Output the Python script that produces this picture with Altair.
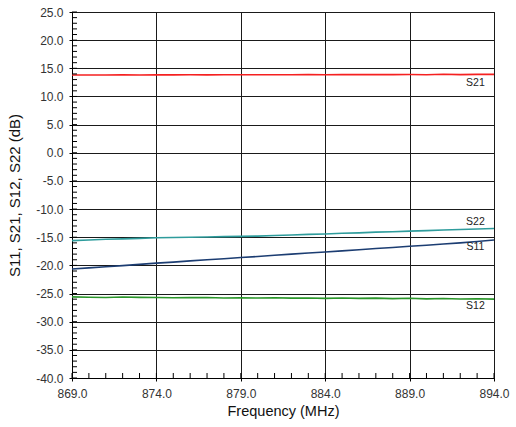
import altair as alt
import pandas as pd

freq = list(range(869, 895))
s21 = [13.80, 13.82, 13.80, 13.83, 13.82, 13.84, 13.83, 13.85, 13.84, 13.85, 13.86, 13.85, 13.86,
       13.85, 13.87, 13.86, 13.87, 13.88, 13.87, 13.88, 13.90, 13.86, 13.95, 13.88, 13.92, 13.93]
s22 = [-15.6, -15.5, -15.35, -15.3, -15.2, -15.1, -15.05, -15.0, -14.95, -14.9, -14.85, -14.8, -14.7,
       -14.6, -14.5, -14.42, -14.3, -14.22, -14.1, -14.02, -13.92, -13.82, -13.72, -13.62, -13.55, -13.45]
s11 = [-20.65, -20.45, -20.25, -20.05, -19.82, -19.6, -19.42, -19.2, -19.0, -18.82, -18.6, -18.42, -18.2,
       -18.0, -17.8, -17.62, -17.42, -17.22, -17.0, -16.82, -16.6, -16.42, -16.2, -16.0, -15.75, -15.5]
s12 = [-25.6, -25.65, -25.7, -25.62, -25.68, -25.7, -25.75, -25.72, -25.7, -25.78, -25.74, -25.8, -25.76,
       -25.82, -25.78, -25.85, -25.8, -25.86, -25.82, -25.9, -25.85, -25.95, -25.88, -25.96, -25.92, -26.0]

series_names = ["S21", "S22", "S11", "S12"]
series_colors = ["#f52020", "#2e9c9c", "#1c3d72", "#2a962a"]
label_x = [892.9, 892.9, 892.9, 892.9]
label_y = [12.45, -12.25, -16.7, -27.3]

x_major = [869.0, 874.0, 879.0, 884.0, 889.0, 894.0]
y_major = [-40.0, -35.0, -30.0, -25.0, -20.0, -15.0, -10.0, -5.0, 0.0, 5.0, 10.0, 15.0, 20.0, 25.0]
x_minor = [float(v) for v in range(869, 895)]
y_minor = [float(v) for v in range(-40, 26)]

rows = []
for name, vals in zip(series_names, [s21, s22, s11, s12]):
    for f, v in zip(freq, vals):
        rows.append({"f": f, "v": v, "s": name})
df = pd.DataFrame(rows)
labels = pd.DataFrame({"s": series_names, "x": label_x, "y": label_y})

FONT = "Liberation Sans"
xs = alt.Scale(domain=[869, 894], nice=False, zero=False)
ys = alt.Scale(domain=[-40, 25], nice=False, zero=False)

x_axis = alt.Axis(
    values=x_major, title="Frequency (MHz)", labelExpr="format(datum.value, '.1f')",
    labelOverlap=False, labelFlush=False,
    grid=True, gridColor="#1a1a1a", gridOpacity=1, tickSize=3, tickColor="#000",
    domainColor="#000", labelFont=FONT, labelFontSize=12, labelColor="#333",
    labelPadding=7, titleFont=FONT, titleFontSize=14.5, titleFontWeight="normal",
    titleColor="#111", titlePadding=5)
y_axis = alt.Axis(
    values=y_major, title="S11, S21, S12, S22 (dB)",
    labelExpr="replace(format(datum.value, '.1f'), '\u2212', '-')",
    labelOverlap=False, labelFlush=False,
    grid=True, gridColor="#1a1a1a", gridOpacity=1, tickSize=3, tickColor="#000",
    domainColor="#000", labelFont=FONT, labelFontSize=12, labelColor="#333",
    labelPadding=6, titleFont=FONT, titleFontSize=15, titleFontWeight="normal",
    titleColor="#111", titlePadding=13)

lines = alt.Chart(df).mark_line(strokeWidth=1.6, clip=True).encode(
    x=alt.X("f:Q", scale=xs, axis=x_axis),
    y=alt.Y("v:Q", scale=ys, axis=y_axis),
    color=alt.Color("s:N", scale=alt.Scale(domain=series_names, range=series_colors), legend=None),
    detail="s:N",
)

ymin = alt.Chart(pd.DataFrame({"ym": y_minor})).mark_rule(
    color="#000", strokeWidth=1).encode(
    y=alt.Y("ym:Q", scale=ys, axis=y_axis), x=alt.value(0), x2=alt.value(5))
xmin = alt.Chart(pd.DataFrame({"xm": x_minor})).mark_rule(
    color="#000", strokeWidth=1).encode(
    x=alt.X("xm:Q", scale=xs, axis=x_axis), y=alt.value(361), y2=alt.value(366))

text = alt.Chart(labels).mark_text(font=FONT, fontSize=10.5, color="#222").encode(
    x=alt.X("x:Q", scale=xs, axis=x_axis), y=alt.Y("y:Q", scale=ys, axis=y_axis), text="s:N")

chart = alt.layer(lines, ymin, xmin, text).properties(
    width=422, height=366,
    autosize=alt.AutoSizeParams(type="none"),
    padding={"left": 72, "top": 12, "right": 22, "bottom": 49},
    background="white",
).configure_view(stroke="#000", strokeWidth=1)

chart.save("out.html", embed_options={"renderer": "svg", "actions": False})
